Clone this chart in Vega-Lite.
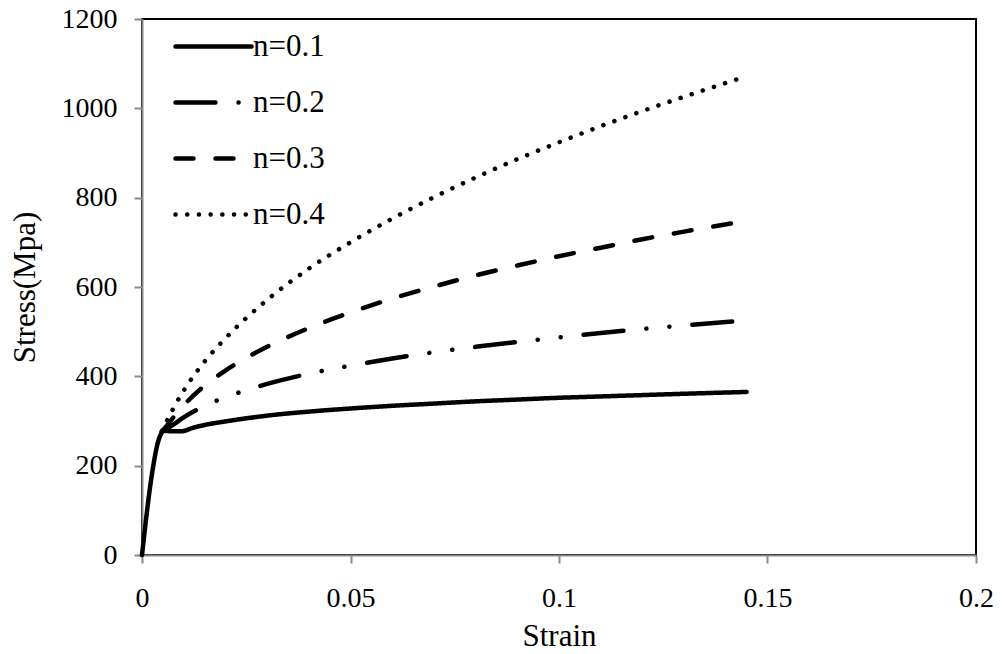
{
  "$schema": "https://vega.github.io/schema/vega-lite/v6.json",
  "autosize": {"type": "none"},
  "width": 834,
  "height": 536,
  "padding": {"left": 142, "top": 19, "right": 26, "bottom": 99},
  "background": "white",
  "config": {
    "view": {"stroke": "black", "strokeWidth": 2},
    "font": "Liberation Serif",
    "axis": {
      "grid": false,
      "labelFlush": false,
      "domainColor": "#898989",
      "domainWidth": 2,
      "tickColor": "#898989",
      "tickWidth": 2,
      "tickSize": 8,
      "labelFont": "Liberation Serif",
      "labelFontSize": 28,
      "labelColor": "black",
      "titleFont": "Liberation Serif",
      "titleFontSize": 31,
      "titleFontWeight": "normal",
      "titleColor": "black"
    },
    "legend": {
      "labelFont": "Liberation Serif",
      "labelFontSize": 31,
      "labelColor": "black"
    }
  },
  "data": {
    "values": [
      {"series": "n=0.1", "strain": 0, "stress": 0},
      {"series": "n=0.1", "strain": 0.0025, "stress": 188},
      {"series": "n=0.1", "strain": 0.0037, "stress": 248},
      {"series": "n=0.1", "strain": 0.0045, "stress": 270},
      {"series": "n=0.1", "strain": 0.005, "stress": 278},
      {"series": "n=0.1", "strain": 0.0075, "stress": 277},
      {"series": "n=0.1", "strain": 0.0095, "stress": 277},
      {"series": "n=0.1", "strain": 0.012, "stress": 284},
      {"series": "n=0.1", "strain": 0.015, "stress": 291},
      {"series": "n=0.1", "strain": 0.02, "stress": 299},
      {"series": "n=0.1", "strain": 0.03, "stress": 312},
      {"series": "n=0.1", "strain": 0.04, "stress": 321},
      {"series": "n=0.1", "strain": 0.05, "stress": 328},
      {"series": "n=0.1", "strain": 0.06, "stress": 334},
      {"series": "n=0.1", "strain": 0.07, "stress": 339},
      {"series": "n=0.1", "strain": 0.08, "stress": 344},
      {"series": "n=0.1", "strain": 0.09, "stress": 348},
      {"series": "n=0.1", "strain": 0.1, "stress": 352},
      {"series": "n=0.1", "strain": 0.11, "stress": 355},
      {"series": "n=0.1", "strain": 0.12, "stress": 358},
      {"series": "n=0.1", "strain": 0.13, "stress": 361},
      {"series": "n=0.1", "strain": 0.145, "stress": 365},
      {"series": "n=0.2", "strain": 0.0048, "stress": 276},
      {"series": "n=0.2", "strain": 0.0075, "stress": 292},
      {"series": "n=0.2", "strain": 0.01, "stress": 308},
      {"series": "n=0.2", "strain": 0.015, "stress": 334},
      {"series": "n=0.2", "strain": 0.02, "stress": 353},
      {"series": "n=0.2", "strain": 0.03, "stress": 383},
      {"series": "n=0.2", "strain": 0.04, "stress": 406},
      {"series": "n=0.2", "strain": 0.05, "stress": 424},
      {"series": "n=0.2", "strain": 0.06, "stress": 440},
      {"series": "n=0.2", "strain": 0.07, "stress": 454},
      {"series": "n=0.2", "strain": 0.08, "stress": 466},
      {"series": "n=0.2", "strain": 0.09, "stress": 477},
      {"series": "n=0.2", "strain": 0.1, "stress": 487},
      {"series": "n=0.2", "strain": 0.11, "stress": 497},
      {"series": "n=0.2", "strain": 0.12, "stress": 506},
      {"series": "n=0.2", "strain": 0.13, "stress": 514},
      {"series": "n=0.2", "strain": 0.145, "stress": 525},
      {"series": "n=0.3", "strain": 0.0048, "stress": 276},
      {"series": "n=0.3", "strain": 0.0075, "stress": 308},
      {"series": "n=0.3", "strain": 0.01, "stress": 335},
      {"series": "n=0.3", "strain": 0.015, "stress": 379},
      {"series": "n=0.3", "strain": 0.02, "stress": 413},
      {"series": "n=0.3", "strain": 0.03, "stress": 466},
      {"series": "n=0.3", "strain": 0.04, "stress": 508},
      {"series": "n=0.3", "strain": 0.05, "stress": 543},
      {"series": "n=0.3", "strain": 0.06, "stress": 574},
      {"series": "n=0.3", "strain": 0.07, "stress": 601},
      {"series": "n=0.3", "strain": 0.08, "stress": 626},
      {"series": "n=0.3", "strain": 0.09, "stress": 648},
      {"series": "n=0.3", "strain": 0.1, "stress": 669},
      {"series": "n=0.3", "strain": 0.11, "stress": 688},
      {"series": "n=0.3", "strain": 0.12, "stress": 707},
      {"series": "n=0.3", "strain": 0.13, "stress": 724},
      {"series": "n=0.3", "strain": 0.145, "stress": 748},
      {"series": "n=0.4", "strain": 0.0048, "stress": 278},
      {"series": "n=0.4", "strain": 0.0075, "stress": 328},
      {"series": "n=0.4", "strain": 0.01, "stress": 368},
      {"series": "n=0.4", "strain": 0.015, "stress": 433},
      {"series": "n=0.4", "strain": 0.02, "stress": 485},
      {"series": "n=0.4", "strain": 0.03, "stress": 571},
      {"series": "n=0.4", "strain": 0.04, "stress": 641},
      {"series": "n=0.4", "strain": 0.05, "stress": 700},
      {"series": "n=0.4", "strain": 0.06, "stress": 753},
      {"series": "n=0.4", "strain": 0.07, "stress": 801},
      {"series": "n=0.4", "strain": 0.08, "stress": 845},
      {"series": "n=0.4", "strain": 0.09, "stress": 886},
      {"series": "n=0.4", "strain": 0.1, "stress": 924},
      {"series": "n=0.4", "strain": 0.11, "stress": 960},
      {"series": "n=0.4", "strain": 0.12, "stress": 994},
      {"series": "n=0.4", "strain": 0.13, "stress": 1026},
      {"series": "n=0.4", "strain": 0.145, "stress": 1072}
    ]
  },
  "mark": {"type": "line", "color": "black", "strokeWidth": 4.5, "strokeCap": "round", "strokeJoin": "round", "interpolate": "monotone"},
  "encoding": {
    "x": {
      "field": "strain", "type": "quantitative",
      "scale": {"domain": [0, 0.2], "nice": false},
      "axis": {"values": [0, 0.05, 0.1, 0.15, 0.2], "format": ".2~f", "title": "Strain", "labelPadding": 21, "titleBaseline": "alphabetic", "titleY": 90}
    },
    "y": {
      "field": "stress", "type": "quantitative",
      "scale": {"domain": [0, 1200], "nice": false},
      "axis": {"values": [0, 200, 400, 600, 800, 1000, 1200], "format": "d", "title": "Stress(Mpa)", "labelPadding": 17, "titleBaseline": "alphabetic", "titleX": -108}
    },
    "strokeDash": {
      "field": "series", "type": "nominal",
      "scale": {"domain": ["n=0.1", "n=0.2", "n=0.3", "n=0.4"], "range": [[1, 0], [40, 23, 0.1, 23, 0.1, 23], [18, 22], [0.1, 11.6]]},
      "legend": {
        "title": null,
        "orient": "none",
        "legendX": 31,
        "legendY": -13,
        "padding": 0,
        "symbolType": "stroke",
        "symbolSize": 5780,
        "symbolStrokeWidth": 4.5,
        "symbolStrokeColor": "black",
        "labelOffset": -1,
        "rowPadding": 0,
        "encode": {
          "symbols": {"update": {"strokeCap": {"value": "round"}}}
        }
      }
    }
  }
}
